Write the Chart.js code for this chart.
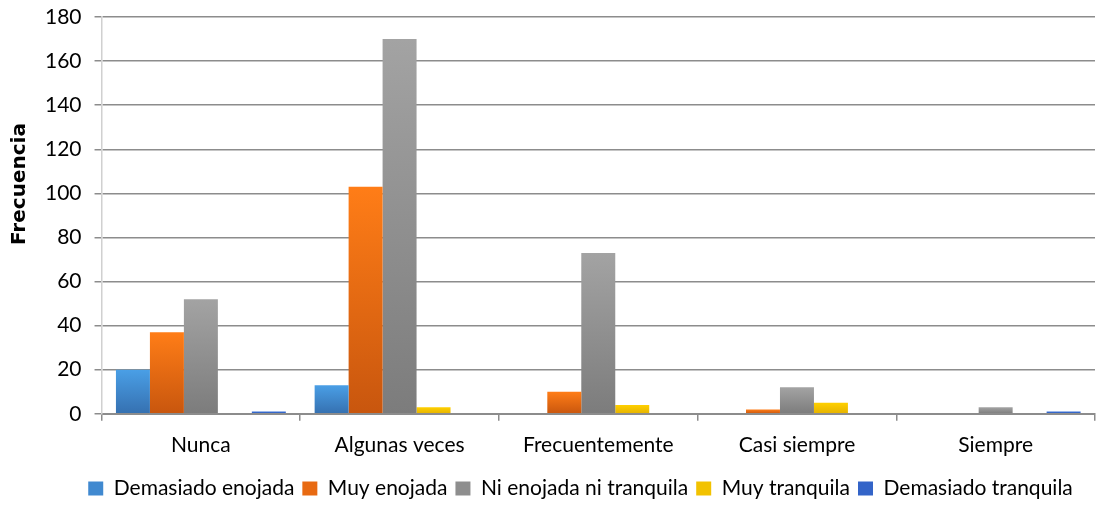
<!DOCTYPE html>
<html>
<head>
<meta charset="utf-8">
<script src="https://cdn.jsdelivr.net/npm/chart.js@4.4.0/dist/chart.umd.min.js"></script>
<style>
  html, body { margin: 0; padding: 0; background: #fff; }
  #wrap { width: 1104px; height: 510px; }
</style>
</head>
<body>
<div id="wrap"><canvas id="chart" width="1104" height="510"></canvas></div>
<script>
// categories
const categories = ["Nunca", "Algunas veces", "Frecuentemente", "Casi siempre", "Siempre"];

// series values (frecuencia)
const demasiadoEnojada = [20, 13, 0, 0, 0];
const muyEnojada = [37, 103, 10, 2, 0];
const niEnojadaNiTranquila = [52, 170, 73, 12, 3];
const muyTranquila = [0, 3, 4, 5, 0];
const demasiadoTranquila = [1, 0, 0, 0, 1];

const yTicks = [0, 20, 40, 60, 80, 100, 120, 140, 160, 180];

const FONT = "Lato, 'Open Sans', sans-serif";

// vertical gradient per bar, light on top, dark at the base
const barGradient = function(top, bottom) {
    return function(context) {
        const chart = context.chart;
        const yScale = chart.scales.y;
        if (!yScale || context.raw === undefined || !chart.chartArea) {
            return bottom;
        }
        const y0 = yScale.getPixelForValue(context.raw);
        const y1 = yScale.getPixelForValue(0);
        if (!isFinite(y0) || !isFinite(y1) || y1 - y0 < 1) {
            return bottom;
        }
        const g = chart.ctx.createLinearGradient(0, y0, 0, y1);
        g.addColorStop(0, top);
        g.addColorStop(1, bottom);
        return g;
    };
};

const series = [
    { label: "Demasiado enojada", data: demasiadoEnojada, top: "#4a9fe6", bottom: "#3570b0", legend: "#4089d0" },
    { label: "Muy enojada", data: muyEnojada, top: "#ff7d17", bottom: "#c8560e", legend: "#e86a12" },
    { label: "Ni enojada ni tranquila", data: niEnojadaNiTranquila, top: "#a3a3a3", bottom: "#7c7c7c", legend: "#8e8e8e" },
    { label: "Muy tranquila", data: muyTranquila, top: "#ffd000", bottom: "#e5b200", legend: "#f2c200" },
    { label: "Demasiado tranquila", data: demasiadoTranquila, top: "#3c72d8", bottom: "#2a56b2", legend: "#3364c8" }
];

// the original legend sits a little right of centre
const legendShift = {
    id: 'legendShift',
    afterLayout: (chart) => {
        if (chart.legend) {
            chart.legend.left += 29;
            chart.legend.right += 29;
        }
    }
};

new Chart(document.getElementById('chart').getContext('2d'), {
    type: 'bar',
    data: {
        labels: categories,
        datasets: series.map((s) => {
            return {
                label: s.label,
                data: s.data,
                backgroundColor: barGradient(s.top, s.bottom),
                borderWidth: 0,
                categoryPercentage: 0.855,
                barPercentage: 1.0,
                legendColor: s.legend
            };
        })
    },
    plugins: [legendShift],
    options: {
        responsive: false,
        animation: false,
        layout: {
            padding: { left: 8, right: 9, top: 1, bottom: 1 }
        },
        plugins: {
            tooltip: { enabled: false },
            legend: {
                position: 'bottom',
                labels: {
                    font: { family: FONT, size: 21 },
                    color: '#000',
                    boxWidth: 15,
                    boxHeight: 14,
                    padding: 8,
                    generateLabels: (chart) => {
                        return chart.data.datasets.map((d, i) => {
                            return {
                                text: d.label,
                                fillStyle: d.legendColor,
                                strokeStyle: d.legendColor,
                                lineWidth: 0,
                                datasetIndex: i,
                                fontColor: '#000'
                            };
                        });
                    }
                }
            }
        },
        scales: {
            x: {
                grid: {
                    offset: true,
                    drawOnChartArea: false,
                    drawTicks: true,
                    tickLength: 7,
                    color: '#8c8c8c',
                    lineWidth: 1.5
                },
                border: { color: '#8c8c8c', width: 2 },
                ticks: {
                    font: { family: FONT, size: 21 },
                    color: '#000',
                    padding: 12
                }
            },
            y: {
                min: 0,
                max: 180,
                afterBuildTicks: (axis) => {
                    axis.ticks = yTicks.map((v) => ({ value: v }));
                },
                // tick padding would otherwise also push the plot top down
                afterFit: (axis) => {
                    axis.paddingTop = 17;
                },
                grid: {
                    color: '#8c8c8c',
                    lineWidth: 1.5,
                    tickLength: 7
                },
                border: { color: '#d0d0d0', width: 1.5 },
                ticks: {
                    font: { family: FONT, size: 21 },
                    color: '#000',
                    padding: 13
                },
                title: {
                    display: true,
                    // leading spaces push the title up, like the original sits above centre
                    text: '         Frecuencia',
                    font: { family: "'DejaVu Sans', sans-serif", size: 20, weight: 'bold' },
                    color: '#000',
                    padding: { top: 0, bottom: 0 }
                }
            }
        }
    }
});
</script>
</body>
</html>
